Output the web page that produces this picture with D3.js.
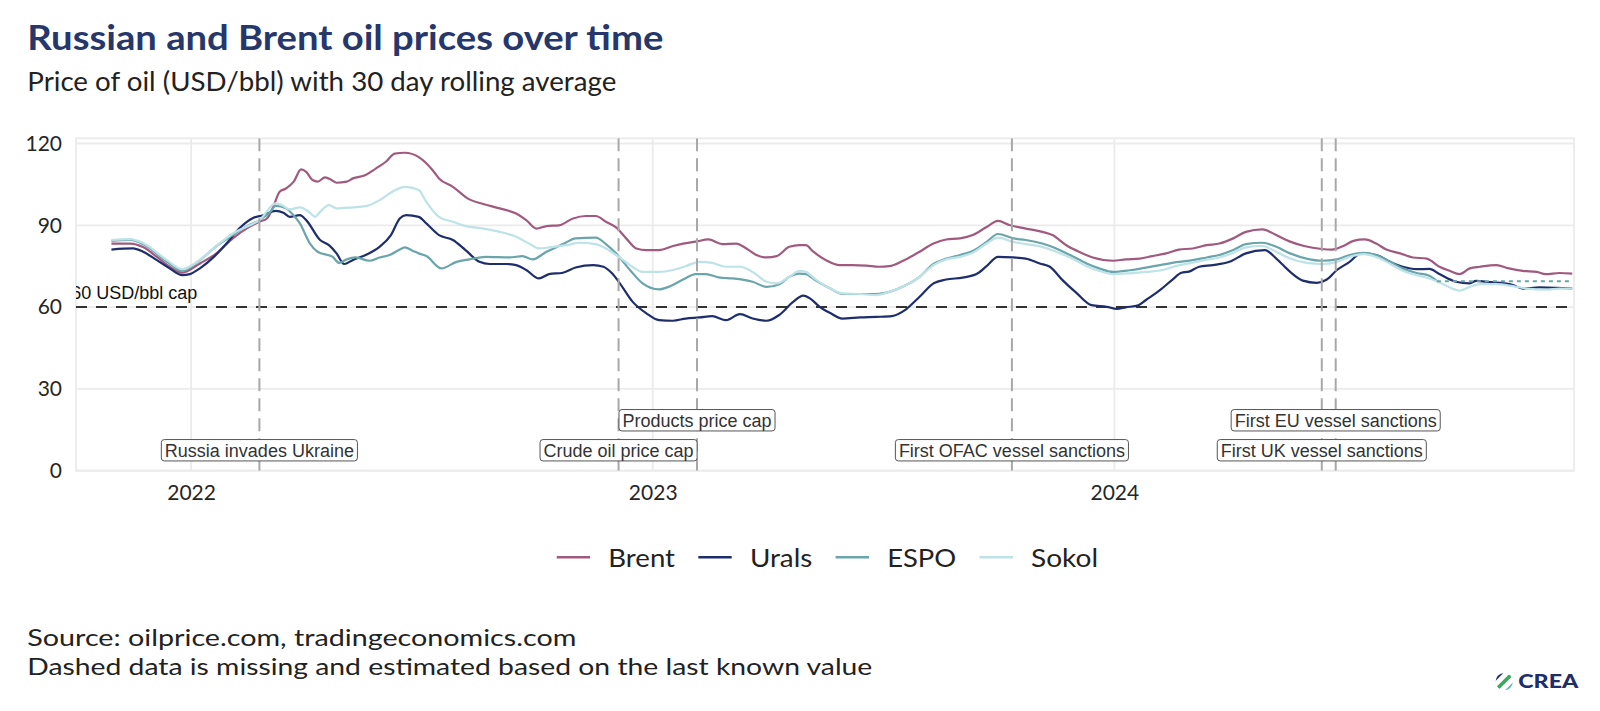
<!DOCTYPE html>
<html><head><meta charset="utf-8">
<script src="https://cdn.jsdelivr.net/npm/d3@7"></script>
<style>body{margin:0;background:#fff;} svg{display:block;}</style>
</head><body>
<svg id="c" width="1600" height="711"></svg>
<script>
// ---------------- DATA ----------------
const seriesNames = ["Brent", "Urals", "ESPO", "Sokol"];
const seriesColors = ["#a15a7f", "#1e2e6c", "#6aa5ac", "#bde2e7"];

const brent = [["2021-10-30",83.3],["2021-11-14",83.3],["2021-11-24",82.0],["2021-12-05",78.4],["2021-12-15",74.8],["2021-12-25",72.6],["2022-01-08",76.0],["2022-01-21",79.7],["2022-02-03",85.2],["2022-02-16",89.4],["2022-02-24",91.3],["2022-03-02",92.5],["2022-03-07",96.8],["2022-03-12",102.3],["2022-03-17",103.5],["2022-03-23",105.9],["2022-03-29",110.5],["2022-04-02",109.6],["2022-04-07",106.6],["2022-04-11",106.0],["2022-04-17",107.6],["2022-04-22",106.6],["2022-04-26",105.6],["2022-05-04",106.0],["2022-05-09",107.2],["2022-05-19",108.4],["2022-05-27",110.8],["2022-06-04",113.3],["2022-06-11",116.3],["2022-06-19",116.6],["2022-06-30",115.0],["2022-07-11",110.2],["2022-07-16",107.2],["2022-07-27",104.1],["2022-08-09",99.5],["2022-08-20",97.8],["2022-09-02",96.2],["2022-09-15",94.3],["2022-09-23",91.9],["2022-10-01",88.8],["2022-10-09",89.7],["2022-10-19",90.0],["2022-10-30",92.5],["2022-11-09",93.4],["2022-11-17",93.4],["2022-11-25",91.3],["2022-12-03",89.2],["2022-12-11",85.2],["2022-12-19",81.5],["2022-12-27",80.9],["2023-01-06",80.9],["2023-01-17",82.4],["2023-01-25",83.3],["2023-02-04",84.0],["2023-02-14",84.8],["2023-02-25",83.1],["2023-03-08",83.3],["2023-03-16",81.5],["2023-03-24",79.1],["2023-04-01",78.2],["2023-04-09",78.7],["2023-04-19",82.1],["2023-04-27",82.7],["2023-05-02",82.7],["2023-05-08",80.3],["2023-05-18",77.2],["2023-05-29",75.4],["2023-06-08",75.4],["2023-06-19",75.2],["2023-06-29",74.8],["2023-07-07",75.0],["2023-07-18",77.0],["2023-07-31",80.3],["2023-08-11",83.3],["2023-08-21",84.8],["2023-09-01",85.2],["2023-09-11",86.4],["2023-09-22",89.4],["2023-10-01",91.6],["2023-10-10",90.1],["2023-10-23",88.8],["2023-11-05",87.6],["2023-11-13",86.4],["2023-11-24",82.7],["2023-12-04",80.3],["2023-12-15",78.2],["2023-12-31",77.0],["2024-01-10",77.5],["2024-01-21",77.8],["2024-01-31",78.7],["2024-02-11",79.7],["2024-02-21",81.1],["2024-03-03",81.5],["2024-03-14",82.7],["2024-03-24",83.3],["2024-04-04",85.2],["2024-04-14",87.6],["2024-04-27",88.5],["2024-05-08",86.4],["2024-05-19",84.0],["2024-05-30",82.4],["2024-06-13",81.3],["2024-06-21",81.1],["2024-06-30",82.4],["2024-07-08",84.3],["2024-07-17",84.8],["2024-07-26",83.3],["2024-08-03",81.1],["2024-08-14",79.7],["2024-08-24",78.2],["2024-09-04",77.8],["2024-09-14",74.8],["2024-09-22",73.3],["2024-09-30",72.1],["2024-10-08",74.2],["2024-10-16",74.8],["2024-10-29",75.4],["2024-11-08",74.2],["2024-11-19",73.3],["2024-11-30",72.9],["2024-12-07",72.1],["2024-12-18",72.5],["2024-12-28",72.3]];

const urals = [["2021-10-30",81.1],["2021-11-16",81.5],["2021-11-24",80.3],["2021-12-05",77.2],["2021-12-15",74.2],["2021-12-25",71.7],["2021-12-31",72.1],["2022-01-08",74.2],["2022-01-19",78.4],["2022-01-29",83.3],["2022-02-08",88.8],["2022-02-19",92.7],["2022-02-27",93.7],["2022-03-09",95.3],["2022-03-15",94.6],["2022-03-20",93.1],["2022-03-28",93.7],["2022-04-02",91.9],["2022-04-13",84.6],["2022-04-20",82.7],["2022-04-26",79.7],["2022-05-02",75.8],["2022-05-09",77.3],["2022-05-19",79.1],["2022-05-30",82.1],["2022-06-08",86.4],["2022-06-15",92.5],["2022-06-20",93.7],["2022-06-30",93.1],["2022-07-06",90.7],["2022-07-16",86.4],["2022-07-27",84.6],["2022-08-06",80.9],["2022-08-17",76.6],["2022-08-25",75.8],["2022-09-07",75.8],["2022-09-15",75.4],["2022-09-23",73.6],["2022-10-03",70.5],["2022-10-11",72.1],["2022-10-22",72.6],["2022-11-01",74.5],["2022-11-15",75.4],["2022-11-23",74.8],["2022-11-30",72.3],["2022-12-06",68.7],["2022-12-16",62.0],["2022-12-27",57.7],["2023-01-06",55.2],["2023-01-17",55.0],["2023-01-27",55.8],["2023-02-07",56.2],["2023-02-17",56.7],["2023-02-28",55.2],["2023-03-11",57.4],["2023-03-21",55.8],["2023-04-01",55.0],["2023-04-11",57.1],["2023-04-22",61.9],["2023-04-30",64.2],["2023-05-05",63.3],["2023-05-13",60.1],["2023-05-21",57.9],["2023-05-31",55.8],["2023-06-14",56.2],["2023-06-27",56.4],["2023-07-09",56.7],["2023-07-20",59.1],["2023-07-31",63.8],["2023-08-11",68.7],["2023-08-21",70.1],["2023-09-03",70.8],["2023-09-14",72.1],["2023-09-22",75.0],["2023-10-01",78.4],["2023-10-13",78.2],["2023-10-23",77.8],["2023-11-03",76.0],["2023-11-11",74.8],["2023-11-21",69.9],["2023-12-02",65.2],["2023-12-14",60.7],["2023-12-26",60.1],["2024-01-03",59.3],["2024-01-10",59.9],["2024-01-20",60.7],["2024-01-26",62.6],["2024-02-06",66.2],["2024-02-16",70.1],["2024-02-23",72.6],["2024-02-29",73.0],["2024-03-08",74.8],["2024-03-19",75.4],["2024-04-01",76.6],["2024-04-14",79.7],["2024-04-29",80.9],["2024-05-08",77.8],["2024-05-19",72.9],["2024-05-29",69.7],["2024-06-09",68.9],["2024-06-17",70.1],["2024-06-25",73.6],["2024-07-05",76.6],["2024-07-14",79.7],["2024-07-26",79.1],["2024-08-06",76.6],["2024-08-16",74.8],["2024-08-27",73.9],["2024-09-06",74.0],["2024-09-14",72.1],["2024-09-27",69.3],["2024-10-08",68.7],["2024-10-13",69.6],["2024-10-21",69.3],["2024-11-01",68.9],["2024-11-11",68.1],["2024-11-19",66.8],["2024-12-02",67.2],["2024-12-15",67.1],["2024-12-28",66.8]];

const espo = [["2021-10-30",84.3],["2021-11-14",84.6],["2021-11-24",83.1],["2021-12-13",76.6],["2021-12-25",73.3],["2022-01-08",77.2],["2022-01-21",82.4],["2022-02-03",86.4],["2022-02-14",89.7],["2022-02-24",91.9],["2022-03-04",94.6],["2022-03-09",97.1],["2022-03-17",96.2],["2022-03-23",93.7],["2022-03-28",90.7],["2022-04-05",83.3],["2022-04-11",80.3],["2022-04-23",78.4],["2022-04-28",76.2],["2022-05-04",77.5],["2022-05-11",78.2],["2022-05-22",77.0],["2022-05-30",78.2],["2022-06-07",79.1],["2022-06-15",81.1],["2022-06-19",81.9],["2022-06-25",80.7],["2022-06-30",79.7],["2022-07-06",78.7],["2022-07-18",74.2],["2022-07-30",76.6],["2022-08-09",77.5],["2022-08-22",78.4],["2022-09-10",78.2],["2022-09-20",78.7],["2022-09-28",77.5],["2022-10-09",80.3],["2022-10-22",83.1],["2022-11-01",85.2],["2022-11-17",85.5],["2022-11-25",83.1],["2022-12-03",79.7],["2022-12-14",73.6],["2022-12-24",68.7],["2023-01-06",66.5],["2023-01-14",67.5],["2023-01-25",70.1],["2023-02-04",72.1],["2023-02-12",72.1],["2023-02-22",70.9],["2023-03-05",70.5],["2023-03-13",70.1],["2023-03-21",69.3],["2023-04-01",67.4],["2023-04-11",68.4],["2023-04-19",71.1],["2023-04-27",72.3],["2023-05-02",72.1],["2023-05-10",69.7],["2023-05-21",66.9],["2023-05-31",64.8],["2023-06-14",64.8],["2023-06-27",64.8],["2023-07-07",65.6],["2023-07-20",68.0],["2023-07-31",71.1],["2023-08-11",75.8],["2023-08-21",77.8],["2023-09-01",79.1],["2023-09-11",80.6],["2023-09-22",83.9],["2023-10-01",86.8],["2023-10-13",85.2],["2023-10-23",84.6],["2023-11-05",83.3],["2023-11-16",81.5],["2023-11-27",79.1],["2023-12-10",76.0],["2023-12-20",74.2],["2023-12-31",72.9],["2024-01-13",73.5],["2024-01-26",74.5],["2024-02-06",75.4],["2024-02-21",76.6],["2024-03-03",77.2],["2024-03-14",78.2],["2024-03-24",79.1],["2024-04-04",80.9],["2024-04-14",83.1],["2024-04-27",83.6],["2024-05-08",82.1],["2024-05-19",79.7],["2024-06-01",77.8],["2024-06-13",77.0],["2024-06-25",77.5],["2024-07-05",79.1],["2024-07-16",79.9],["2024-07-26",79.1],["2024-08-06",76.6],["2024-08-16",74.2],["2024-08-27",72.5],["2024-09-06",71.5],["2024-09-12",69.5]];

const espoEstimated = [["2024-09-12",69.5],["2024-12-28",69.5]];

const sokol = [["2021-10-30",84.6],["2021-11-14",84.9],["2021-11-24",83.5],["2021-12-13",77.2],["2021-12-25",73.9],["2022-01-08",77.4],["2022-01-21",82.4],["2022-02-03",87.0],["2022-02-16",89.9],["2022-02-24",91.9],["2022-03-09",98.0],["2022-03-15",97.1],["2022-03-20",95.8],["2022-03-28",96.6],["2022-04-05",94.6],["2022-04-09",93.1],["2022-04-13",94.9],["2022-04-20",97.4],["2022-04-26",96.2],["2022-05-09",96.6],["2022-05-19",97.0],["2022-05-30",99.2],["2022-06-09",102.3],["2022-06-19",104.1],["2022-06-30",102.9],["2022-07-06",98.6],["2022-07-16",93.1],["2022-07-27",91.3],["2022-08-06",89.7],["2022-08-20",88.8],["2022-09-02",87.6],["2022-09-15",85.8],["2022-09-26",83.1],["2022-10-03",81.5],["2022-10-14",82.1],["2022-10-25",82.7],["2022-11-04",83.6],["2022-11-17",83.1],["2022-11-25",81.5],["2022-12-03",79.1],["2022-12-14",75.4],["2022-12-24",72.9],["2023-01-06",72.9],["2023-01-17",73.6],["2023-01-27",75.0],["2023-02-07",76.6],["2023-02-17",76.2],["2023-02-28",74.8],["2023-03-11",74.8],["2023-03-21",72.9],["2023-04-01",69.3],["2023-04-09",68.7],["2023-04-19",71.1],["2023-04-27",73.3],["2023-05-02",72.9],["2023-05-10",70.1],["2023-05-21",66.9],["2023-05-31",65.0],["2023-06-14",64.8],["2023-06-27",64.4],["2023-07-07",65.6],["2023-07-20",68.0],["2023-07-31",71.1],["2023-08-11",75.4],["2023-08-21",77.5],["2023-09-01",78.4],["2023-09-11",79.9],["2023-09-22",83.3],["2023-10-01",85.5],["2023-10-13",83.9],["2023-10-23",83.1],["2023-11-05",82.1],["2023-11-16",80.3],["2023-11-27",78.2],["2023-12-10",75.0],["2023-12-20",73.3],["2023-12-31",72.1],["2024-01-13",72.4],["2024-01-26",72.9],["2024-02-08",73.6],["2024-02-21",75.3],["2024-03-03",76.3],["2024-03-14",77.4],["2024-03-24",78.2],["2024-04-04",79.9],["2024-04-14",81.9],["2024-04-27",82.4],["2024-05-08",80.3],["2024-05-19",77.8],["2024-06-01",76.2],["2024-06-13",75.8],["2024-06-25",76.6],["2024-07-05",78.4],["2024-07-16",79.4],["2024-07-26",78.4],["2024-08-06",75.9],["2024-08-16",73.3],["2024-08-27",71.7],["2024-09-06",70.5],["2024-09-17",68.4],["2024-09-30",66.0],["2024-10-08",67.4],["2024-10-16",68.4],["2024-10-29",68.4],["2024-11-11",67.7],["2024-11-22",66.8],["2024-12-07",66.4],["2024-12-18",66.8],["2024-12-28",66.8]];

const yTicks = [0, 30, 60, 90, 120];
const xTickDates = ["2022-01-01", "2023-01-01", "2024-01-01"];
const xTickLabels = ["2022", "2023", "2024"];

const eventDates = ["2022-02-24", "2022-12-05", "2023-02-05", "2023-10-12", "2024-06-13", "2024-06-24"];
const eventLabels = ["Russia invades Ukraine", "Crude oil price cap", "Products price cap", "First OFAC vessel sanctions", "First UK vessel sanctions", "First EU vessel sanctions"];
const eventLabelY = [7.5, 7.5, 18.5, 7.5, 7.5, 18.5];

const capValue = 60;
const capLabel = "60 USD/bbl cap";
const capLabelDate = "2021-11-17";

const titleText = "Russian and Brent oil prices over time";
const subtitleText = "Price of oil (USD/bbl) with 30 day rolling average";
const captionLines = ["Source: oilprice.com, tradingeconomics.com", "Dashed data is missing and estimated based on the last known value"];

// ---------------- CHART ----------------
const parse = d3.utcParse("%Y-%m-%d");
const svg = d3.select("#c");
const P = {l: 76, r: 1574, t: 138.3, b: 470.7};
const FONT = "Lato, 'Noto Sans', sans-serif";

const x = d3.scaleUtc()
  .domain([new Date(Date.UTC(2021, 9, 2)), new Date(Date.UTC(2024, 11, 29, 10))])
  .range([P.l, P.r]);
const y = d3.scaleLinear().domain([0, 121.9]).range([P.b, P.t]);

svg.append("rect").attr("width", 1600).attr("height", 711).attr("fill", "#fff");

svg.append("defs").append("clipPath").attr("id", "panel")
  .append("rect").attr("x", P.l).attr("y", P.t).attr("width", P.r - P.l).attr("height", P.b - P.t);

// grid
const grid = svg.append("g");
grid.selectAll(".hg").data(yTicks).join("line")
  .attr("x1", P.l).attr("x2", P.r).attr("y1", d => y(d)).attr("y2", d => y(d))
  .attr("stroke", "#ebebeb").attr("stroke-width", 1.8);
grid.selectAll(".vg").data(xTickDates).join("line")
  .attr("x1", d => x(parse(d))).attr("x2", d => x(parse(d))).attr("y1", P.t).attr("y2", P.b)
  .attr("stroke", "#ebebeb").attr("stroke-width", 1.8);
grid.append("rect").attr("x", P.l).attr("y", P.t).attr("width", P.r - P.l).attr("height", P.b - P.t)
  .attr("fill", "none").attr("stroke", "#ebebeb").attr("stroke-width", 1.8);

// axes
const yAxis = svg.append("g").attr("transform", `translate(${P.l},0)`)
  .call(d3.axisLeft(y).tickValues(yTicks).tickSize(0).tickPadding(14));
const xAxis = svg.append("g").attr("transform", `translate(0,${P.b})`)
  .call(d3.axisBottom(x).tickValues(xTickDates.map(parse)).tickSize(0).tickPadding(14.5)
    .tickFormat((d, i) => xTickLabels[i]));
[yAxis, xAxis].forEach(g => {
  g.select(".domain").remove();
  g.selectAll("text").attr("font-family", FONT).attr("font-size", 21).attr("fill", "#262626");
});

const plot = svg.append("g").attr("clip-path", "url(#panel)");

// 60 cap line
plot.append("line").attr("x1", P.l).attr("x2", P.r).attr("y1", y(capValue)).attr("y2", y(capValue))
  .attr("stroke", "#333").attr("stroke-width", 2).attr("stroke-dasharray", "11,9");
plot.append("text").attr("x", x(parse(capLabelDate))).attr("y", y(capValue) - 8)
  .attr("text-anchor", "middle").attr("font-family", "'Liberation Sans', Arial, sans-serif")
  .attr("font-size", 18).attr("fill", "#111").text(capLabel);

// series
const line = d3.line().x(d => x(parse(d[0]))).y(d => y(d[1])).curve(d3.curveMonotoneX);
const allSeries = [brent, urals, espo, sokol];
allSeries.forEach((s, i) => {
  plot.append("path").datum(s).attr("d", line).attr("fill", "none")
    .attr("stroke", seriesColors[i]).attr("stroke-width", 2.2).attr("stroke-linejoin", "round");
});
plot.append("path").datum(espoEstimated).attr("d", line).attr("fill", "none")
  .attr("stroke", seriesColors[2]).attr("stroke-width", 2).attr("stroke-dasharray", "4,4");

// events
const ev = plot.append("g");
eventDates.forEach((d, i) => {
  ev.append("line").attr("x1", x(parse(d))).attr("x2", x(parse(d))).attr("y1", P.t).attr("y2", P.b)
    .attr("stroke", "#a8a8a8").attr("stroke-width", 2).attr("stroke-dasharray", "13,7");
});
const lab = svg.append("g");
eventDates.forEach((d, i) => {
  const cx = x(parse(d)), cy = y(eventLabelY[i]);
  const g = lab.append("g");
  const t = g.append("text").attr("x", cx).attr("y", cy).attr("dy", "0.35em")
    .attr("text-anchor", "middle").attr("font-family", "'Liberation Sans', Arial, sans-serif")
    .attr("font-size", 18).attr("fill", "#333").text(eventLabels[i]);
  const w = t.node().getComputedTextLength();
  g.insert("rect", "text").attr("x", cx - w / 2 - 3.5).attr("y", cy - 10.7)
    .attr("width", w + 7).attr("height", 21.4).attr("rx", 3)
    .attr("fill", "#fff").attr("stroke", "#555").attr("stroke-width", 1);
});

// title etc.
function fitText(sel, width) {
  const w = sel.node().getComputedTextLength();
  if (Math.abs(w - width) / width > 0.01) sel.attr("textLength", width).attr("lengthAdjust", "spacingAndGlyphs");
}
fitText(svg.append("text").attr("x", 27.3).attr("y", 50).attr("font-family", FONT).attr("font-weight", 700)
  .attr("font-size", 35).attr("fill", "#26376c").text(titleText), 636);
fitText(svg.append("text").attr("x", 27.3).attr("y", 91).attr("font-family", FONT)
  .attr("font-size", 26.5).attr("fill", "#222").text(subtitleText), 589);
const capW = [549, 845];
captionLines.forEach((c, i) => {
  fitText(svg.append("text").attr("x", 27.3).attr("y", 645.5 + i * 29).attr("font-family", FONT)
    .attr("font-size", 24).attr("fill", "#222").text(c), capW[i]);
});

// legend
const leg = svg.append("g");
const legendTextW = [66.7, 62.4, 69, 67];
let lx = 556.7;
seriesNames.forEach((n, i) => {
  leg.append("line").attr("x1", lx).attr("x2", lx + 33.4).attr("y1", 557.3).attr("y2", 557.3)
    .attr("stroke", seriesColors[i]).attr("stroke-width", 2.6);
  const t = leg.append("text").attr("x", lx + 51.6).attr("y", 566.7).attr("font-family", FONT)
    .attr("font-size", 25.5).attr("fill", "#222").text(n);
  fitText(t, legendTextW[i]);
  lx += 51.6 + legendTextW[i] + 23.3;
});

// logo
const logo = svg.append("g");
logo.append("clipPath").attr("id", "logoclip").append("circle").attr("cx", 1504.2).attr("cy", 681.7).attr("r", 8.6);
const lg = logo.append("g").attr("clip-path", "url(#logoclip)");
[["#1e2e6c", -6], ["#3caa5a", 0], ["#5db8b3", 6]].forEach(([c, o]) => {
  lg.append("line").attr("x1", 1504.2 - 12 + o).attr("y1", 681.7 + 12 + o).attr("x2", 1504.2 + 12 + o).attr("y2", 681.7 - 12 + o)
    .attr("stroke", c).attr("stroke-width", 3.6);
});
const crea = logo.append("text").attr("x", 1518.3).attr("y", 688.3).attr("font-family", FONT).attr("font-weight", 900)
  .attr("font-size", 19.5).attr("fill", "#1e2e6c").text("CREA");
fitText(crea, 60);
</script>
</body></html>
